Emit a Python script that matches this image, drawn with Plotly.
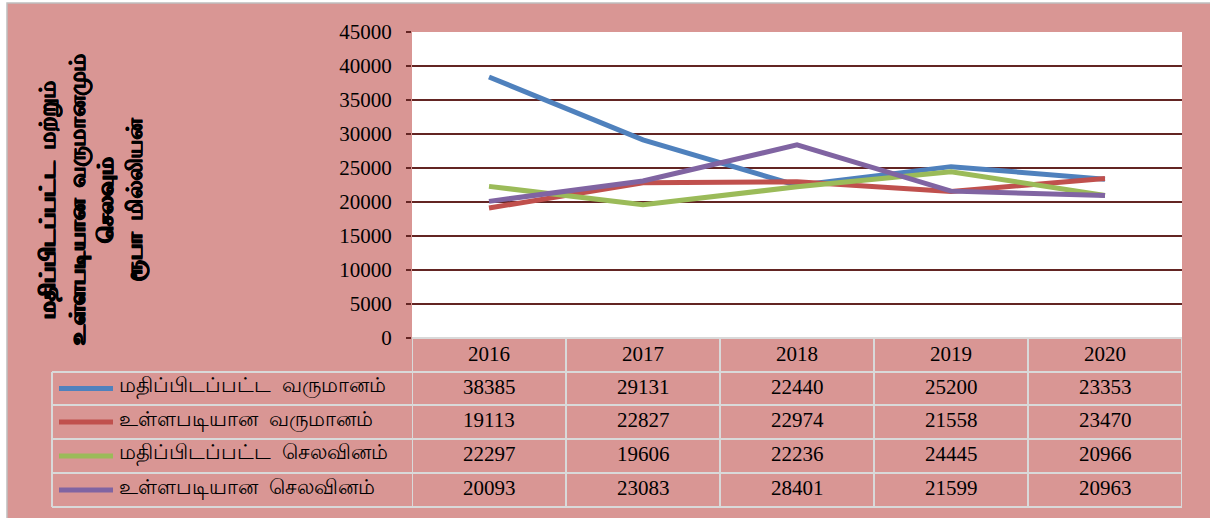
import plotly.graph_objects as go

# Data
years = ["2016", "2017", "2018", "2019", "2020"]
series_names = [
    "மதிப்பிடப்பட்ட  வருமானம்",
    "உள்ளபடியான  வருமானம்",
    "மதிப்பிடப்பட்ட  செலவினம்",
    "உள்ளபடியான  செலவினம்",
]
estimated_revenue = [38385, 29131, 22440, 25200, 23353]
actual_revenue = [19113, 22827, 22974, 21558, 23470]
estimated_expenditure = [22297, 19606, 22236, 24445, 20966]
actual_expenditure = [20093, 23083, 28401, 21599, 20963]
y_ticks = [0, 5000, 10000, 15000, 20000, 25000, 30000, 35000, 40000, 45000]
y_title_lines = [
    "மதிப்பிடப்பட்ட  மற்றும்",
    "உள்ளபடியான  வருமானமும்",
    "செலவும்",
    "ரூபா  மில்லியன்",
]

series_values = [estimated_revenue, actual_revenue, estimated_expenditure, actual_expenditure]
colors = ["#4F81BD", "#C0504D", "#9BBB59", "#8064A2"]

# Layout geometry (pixels)
WIDTH, HEIGHT = 1210, 518
L, R, T, B = 412, 1182, 32, 338
PW, PH = R - L, B - T

def px(xp):
    return (xp - L) / PW

def py(yp):
    return (B - yp) / PH

PINK = "#D99694"
GRID = "#632523"
TABLE_LINE = "#D9D9D9"
SERIF = "Liberation Serif, Times New Roman, serif"
TAMIL = "Latha, Noto Sans, sans-serif"
TEXT_SHIFT = -12  # vertical nudge for table text

fig = go.Figure()
x_idx = list(range(len(years)))
for name, vals, col in zip(series_names, series_values, colors):
    fig.add_trace(go.Scatter(
        x=x_idx, y=vals, mode="lines", name=name,
        line=dict(color=col, width=5), showlegend=False,
    ))

shapes = []
annotations = []

# frame of the chart area
shapes.append(dict(type="rect", xref="paper", yref="paper",
                   x0=px(0), x1=px(7), y0=py(0), y1=py(HEIGHT),
                   fillcolor="white", line_width=0, layer="below"))
shapes.append(dict(type="rect", xref="paper", yref="paper",
                   x0=px(0), x1=px(WIDTH), y0=py(0), y1=py(3),
                   fillcolor="white", line_width=0, layer="below"))
shapes.append(dict(type="rect", xref="paper", yref="paper",
                   x0=px(7), x1=px(WIDTH + 5), y0=py(3), y1=py(HEIGHT + 5),
                   line=dict(color="#BFBFBF", width=1.5), fillcolor="rgba(0,0,0,0)"))

# data table grid
row_edges = [338, 372, 405, 439, 473, 507]
for i, yp in enumerate(row_edges):
    x0 = px(412) if i == 0 else px(52)
    shapes.append(dict(type="line", xref="paper", yref="paper",
                       x0=x0, x1=px(1182), y0=py(yp), y1=py(yp),
                       line=dict(color=TABLE_LINE, width=2)))
for k in range(len(years) + 1):
    shapes.append(dict(type="line", xref="x", yref="paper",
                       x0=k - 0.5, x1=k - 0.5, y0=py(338), y1=py(507),
                       line=dict(color=TABLE_LINE, width=2)))
shapes.append(dict(type="line", xref="paper", yref="paper",
                   x0=px(52), x1=px(52), y0=py(372), y1=py(507),
                   line=dict(color=TABLE_LINE, width=2)))

# header row: years
for k, yr in enumerate(years):
    annotations.append(dict(x=k, y=py((row_edges[0] + row_edges[1]) / 2),
                            xref="x", yref="paper", text=yr, showarrow=False,
                            yshift=TEXT_SHIFT - 1,
                            font=dict(family=SERIF, size=21, color="black")))

# value rows with legend keys
for r, (name, vals, col) in enumerate(zip(series_names, series_values, colors)):
    yc = (row_edges[r + 1] + row_edges[r + 2]) / 2
    shapes.append(dict(type="line", xref="paper", yref="paper",
                       x0=px(59), x1=px(113), y0=py(yc), y1=py(yc),
                       line=dict(color=col, width=5)))
    annotations.append(dict(x=px(117), y=py(yc), xref="paper", yref="paper",
                            text=name, showarrow=False, xanchor="left",
                            yshift=TEXT_SHIFT,
                            font=dict(family=TAMIL, size=21, color="black")))
    for k, v in enumerate(vals):
        annotations.append(dict(x=k, y=py(yc), xref="x", yref="paper",
                                text=str(v), showarrow=False,
                                yshift=TEXT_SHIFT,
                                font=dict(family=SERIF, size=21, color="black")))

# rotated axis title
for xp, line in zip([50, 80, 108, 137], y_title_lines):
    annotations.append(dict(x=px(xp), y=py(200), xref="paper", yref="paper",
                            text="<b>" + line + "</b>", showarrow=False,
                            textangle=-90, xshift=-21,
                            font=dict(family=TAMIL, size=22, color="black",
                                      weight=700,
                                      shadow="0.6px 0 0 black, -0.6px 0 0 black")))

fig.update_layout(
    width=WIDTH, height=HEIGHT,
    margin=dict(l=L, r=WIDTH - R, t=T, b=HEIGHT - B),
    paper_bgcolor=PINK, plot_bgcolor="white",
    showlegend=False,
    shapes=shapes, annotations=annotations,
    xaxis=dict(range=[-0.5, len(years) - 0.5], showticklabels=False,
               showgrid=False, zeroline=False, showline=False, ticks="",
               fixedrange=True),
    yaxis=dict(range=[0, 45000], tickvals=y_ticks, ticktext=[str(t) for t in y_ticks],
               showgrid=True, gridcolor=GRID, gridwidth=2,
               zeroline=False, showline=False,
               ticks="outside", ticklen=5, tickcolor=GRID, tickwidth=2,
               ticklabelstandoff=10,
               tickfont=dict(family=SERIF, size=21, color="black"),
               fixedrange=True),
)

fig.write_html("out.html")
